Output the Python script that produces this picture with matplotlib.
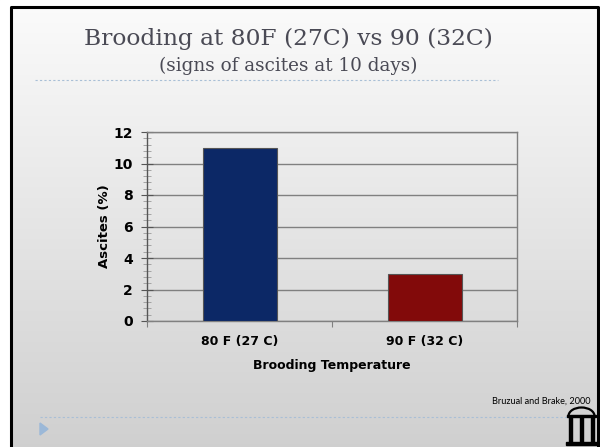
import numpy as np
import matplotlib
matplotlib.use('Agg')
import matplotlib.pyplot as plt
from matplotlib.lines import Line2D
from matplotlib.patches import Arc, Rectangle, Polygon

# data
categories = ['80 F (27 C)', '90 F (32 C)']
ascites = [11, 3]
bar_colors = ['#0c2866', '#820a0a']
yticks = [0, 2, 4, 6, 8, 10, 12]

W, H = 600, 447
fig = plt.figure(figsize=(6, 4.47), dpi=100)

# slide background: white -> light grey gradient
bg = fig.add_axes([0, 0, 1, 1])
grad = np.linspace(0.985, 0.815, 256).reshape(-1, 1)
bg.imshow(np.dstack([grad, grad, grad]), aspect='auto', extent=[0, W, H, 0])
bg.set_xlim(0, W)
bg.set_ylim(H, 0)
bg.axis('off')

# white margin outside the black frame
bg.add_patch(Rectangle((0, 0), W, 5.5, color='white', zorder=2))
bg.add_patch(Rectangle((0, 0), 9.5, H, color='white', zorder=2))
bg.add_patch(Rectangle((598.5, 0), 2, H, color='white', zorder=2))
bg.add_line(Line2D([10.5, 10.5, 597.5, 597.5], [H, 6.5, 6.5, H], color='black', lw=2.2, zorder=3))

# title and subtitle
bg.text(288, 39, 'Brooding at 80F (27C) vs 90 (32C)', family='DejaVu Serif', fontsize=16.8,
        color='#4a4a55', ha='center', va='center')
bg.text(288, 66, '(signs of ascites at 10 days)', family='DejaVu Serif', fontsize=13.2,
        color='#4a4a55', ha='center', va='center')
bg.add_line(Line2D([35, 498], [80, 80], color='#a9bfd6', lw=0.8, ls=(0, (2, 2))))
bg.add_line(Line2D([40, 585], [417, 417], color='#a9bfd6', lw=0.8, ls=(0, (2, 2))))
bg.add_patch(Polygon([[40, 423], [40, 435], [48, 429]], color='#9bb8d8'))

# citation
bg.text(591, 401, 'Bruzual and Brake, 2000', family='Lato', fontsize=6.6, color='black',
        ha='right', va='center')

# arch logo
bg.add_patch(Arc((581.5, 416), 26, 17, theta1=180, theta2=360, color='black', lw=1.6, zorder=4))
bg.add_patch(Rectangle((567, 414.5), 29, 2.5, color='black', zorder=4))
for cx in [570.5, 581.5, 592.5]:
    bg.add_patch(Rectangle((cx - 1.6, 417), 3.2, 26, color='black', zorder=4))
bg.add_patch(Rectangle((566, 442), 31, 3, color='black', zorder=4))

# the chart
ax = fig.add_axes([147 / W, 1 - 321 / H, 370 / W, 189 / H])
ax.patch.set_alpha(0)
x = np.arange(len(categories))
ax.bar(x, ascites, width=0.4, color=bar_colors, edgecolor='#555555', linewidth=0.8, zorder=3)
ax.set_xlim(-0.5, len(categories) - 0.5)
ax.set_ylim(0, 12)
ax.set_yticks(yticks)
ax.set_yticks(np.arange(0, 12.01, 0.4), minor=True)
ax.yaxis.grid(True, color='#808080', lw=1.0, zorder=0)
ax.set_xticks(np.arange(-0.5, len(categories), 1.0))
ax.set_xticklabels([])
ax.set_xticks(x, minor=True)
ax.set_xticklabels(categories, minor=True, fontsize=9, fontweight='bold')
ax.tick_params(axis='x', which='major', length=4, direction='out', color='#808080')
ax.tick_params(axis='x', which='minor', length=4, direction='in', color='#9a9a9a', pad=10)
ax.tick_params(axis='y', which='major', length=8, direction='inout', color='#555555',
               labelsize=10, pad=6)
ax.tick_params(axis='y', which='minor', length=6, direction='inout', color='#9a9a9a')
for lab in ax.get_yticklabels():
    lab.set_fontweight('bold')
for s in ax.spines.values():
    s.set_color('#808080')
    s.set_linewidth(1.0)
ax.spines['left'].set_color('#555555')
ax.set_ylabel('Ascites (%)', fontsize=9.5, fontweight='bold', labelpad=2)
ax.set_xlabel('Brooding Temperature', fontsize=9, fontweight='bold', labelpad=8)

fig.savefig('out.png', dpi=100)
